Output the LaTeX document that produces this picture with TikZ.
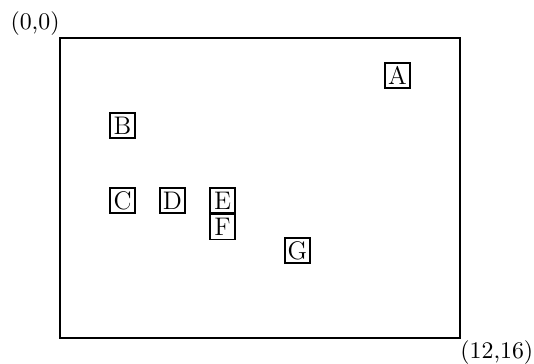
\documentclass[tikz,border=0pt]{standalone}
\usepackage{tikz}
\usetikzlibrary{positioning}

\begin{document}
\begin{tikzpicture}[
  x=0.38cm, y=0.38cm,
  cell/.style={draw, line width=0.45pt, minimum size=0.38cm, inner sep=0pt,
               font=\fontsize{11}{13}\selectfont},
  corner_label/.style={inner xsep=0pt, inner ysep=0.8pt, font=\fontsize{10.3}{12}\selectfont}
]

% Fixed page size
\useasboundingbox (-2.4,1.52) rectangle (18.96,-13);

% Grid frame
\node[inner sep=0pt] (tl) at (0,0) {};
\node[inner sep=0pt] (br) at (16,-12) {};
\draw[line width=0.6pt] (tl.center) rectangle (br.center);

% Corner coordinates
\node[corner_label, anchor=south east] (origin) at (tl.center) {(0,0)};
\node[corner_label, anchor=north west] (far) at (br.center) {(12,16)};

% Cells
\node[cell] (A) at (13.5,-1.5) {A};
\node[cell] (B) at (2.5,-3.5) {B};
\node[cell] (C) at (2.5,-6.5) {C};
\node[cell] (D) at (4.5,-6.5) {D};
\node[cell] (E) at (6.5,-6.5) {E};
\node[cell, below=0pt of E] (F) {F};
\node[cell] (G) at (9.5,-8.5) {G};

\end{tikzpicture}
\end{document}
